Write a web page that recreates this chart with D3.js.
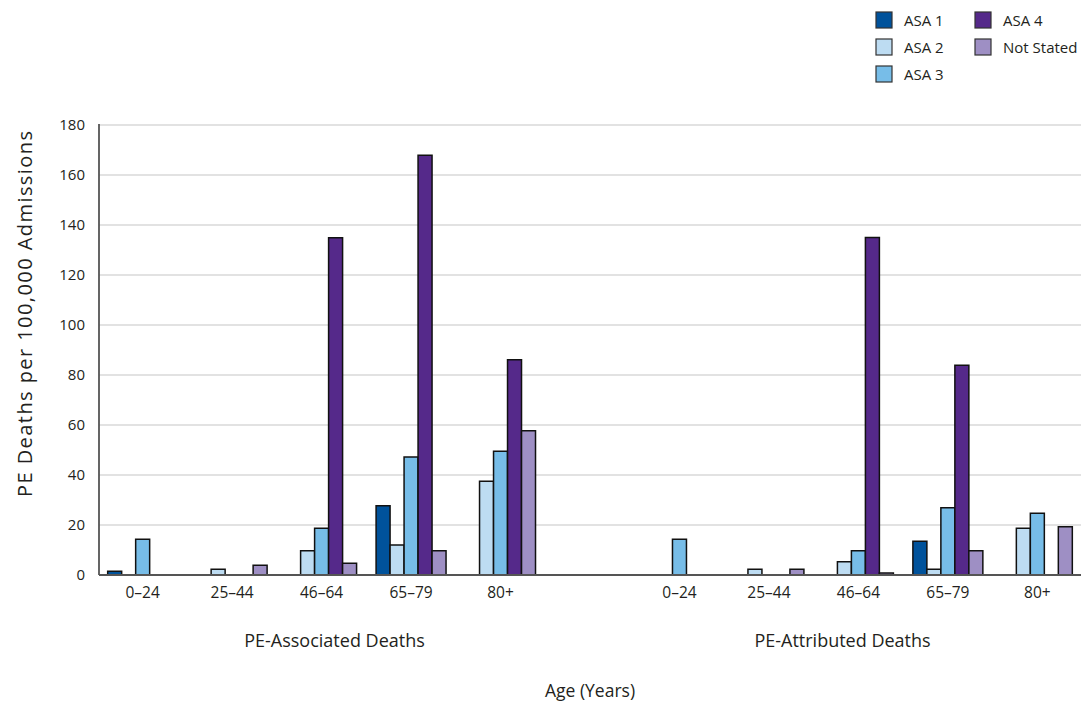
<!DOCTYPE html>
<html>
<head>
<meta charset="utf-8">
<script src="https://cdn.jsdelivr.net/npm/d3@7"></script>
<style>
  html, body { margin: 0; padding: 0; background: #fff; }
  svg { display: block; font-family: "Open Sans", Lato, sans-serif; }
</style>
</head>
<body>
<svg id="chart" width="1084" height="702"></svg>
<script>
// ---- Data ----
const ageGroups = ["0–24", "25–44", "46–64", "65–79", "80+"];
const sections = ["PE-Associated Deaths", "PE-Attributed Deaths"];
const seriesNames = ["ASA 1", "ASA 2", "ASA 3", "ASA 4", "Not Stated"];
const seriesColors = ["#00529b", "#bddcf2", "#77bde8", "#55298a", "#9e8fc4"];
const yTicks = [0, 20, 40, 60, 80, 100, 120, 140, 160, 180];

// PE-Associated Deaths (per age group)
const assocASA1 = [1.5, 0, 0, 27.7, 0];
const assocASA2 = [0, 2.3, 9.7, 12, 37.5];
const assocASA3 = [14.3, 0, 18.7, 47.2, 49.5];
const assocASA4 = [0, 0, 134.9, 167.9, 86.1];
const assocNotStated = [0, 3.9, 4.7, 9.7, 57.7];

// PE-Attributed Deaths (per age group)
const attrASA1 = [0, 0, 0, 13.5, 0];
const attrASA2 = [0, 2.3, 5.3, 2.3, 18.7];
const attrASA3 = [14.3, 0, 9.7, 26.9, 24.7];
const attrASA4 = [0, 0, 135, 83.9, 0];
const attrNotStated = [0, 2.3, 0.8, 9.7, 19.3];

const sectionValues = [
  [assocASA1, assocASA2, assocASA3, assocASA4, assocNotStated],
  [attrASA1, attrASA2, attrASA3, attrASA4, attrNotStated]
];

// ---- Layout ----
const svg = d3.select("#chart");
const margin = { left: 99, right: 3, top: 125, bottom: 127 };
const W = 1084, H = 702;
const plotL = margin.left, plotR = W - margin.right;
const plotT = margin.top, plotB = H - margin.bottom;
const FONT = '"Open Sans", Lato, sans-serif';

// slots: 5 age groups for section 0, a spacer, 5 age groups for section 1
const slotKeys = [];
sections.forEach((s, si) => {
  if (si > 0) slotKeys.push("gap" + si);
  ageGroups.forEach(a => slotKeys.push(si + "|" + a));
});

const x0 = d3.scaleBand().domain(slotKeys).range([plotL, plotR])
  .paddingInner(0.218).paddingOuter(0.097);
const x1 = d3.scaleBand().domain(seriesNames).range([0, x0.bandwidth()]);
const y = d3.scaleLinear().domain([0, 180]).range([plotB, plotT]);

const textColor = "#231f20";

// gridlines
svg.append("g").selectAll("line")
  .data(yTicks.filter(t => t > 0))
  .join("line")
  .attr("x1", plotL).attr("x2", plotR)
  .attr("y1", d => y(d)).attr("y2", d => y(d))
  .attr("stroke", "#d9d9d9").attr("stroke-width", 1.5);

// y axis labels
const yAxis = d3.axisLeft(y).tickValues(yTicks).tickSize(0).tickPadding(14);
const yg = svg.append("g").attr("transform", `translate(${plotL},0)`).call(yAxis);
yg.select(".domain").remove();
yg.selectAll("text").attr("font-size", 15).attr("fill", textColor)
  .attr("font-family", FONT);

// bars
const flat = [];
sections.forEach((s, si) => {
  ageGroups.forEach((a, ai) => {
    seriesNames.forEach((n, ni) => {
      const v = sectionValues[si][ni][ai];
      if (v > 0) flat.push({ key: si + "|" + a, series: n, color: seriesColors[ni], value: v });
    });
  });
});

svg.append("g").selectAll("rect")
  .data(flat)
  .join("rect")
  .attr("x", d => x0(d.key) + x1(d.series))
  .attr("y", d => y(d.value))
  .attr("width", x1.bandwidth())
  .attr("height", d => y(0) - y(d.value))
  .attr("fill", d => d.color)
  .attr("stroke", "#111")
  .attr("stroke-width", 1.5);

// axis lines
svg.append("line").attr("x1", plotL).attr("x2", plotL).attr("y1", plotT - 1).attr("y2", plotB)
  .attr("stroke", "#555").attr("stroke-width", 1.8);
svg.append("line").attr("x1", plotL).attr("x2", plotR).attr("y1", plotB).attr("y2", plotB)
  .attr("stroke", "#555").attr("stroke-width", 1.8);

// x tick labels (age groups)
const xAxis = d3.axisBottom(x0).tickSize(0).tickPadding(12)
  .tickFormat(k => k.indexOf("|") >= 0 ? k.split("|")[1] : "");
const xg = svg.append("g").attr("transform", `translate(0,${plotB})`).call(xAxis);
xg.select(".domain").remove();
xg.selectAll("text").attr("font-size", 15.5).attr("fill", textColor)
  .attr("font-family", FONT);

// section labels
const halfW = (plotR - plotL) / 2;
sections.forEach((s, si) => {
  svg.append("text")
    .attr("x", plotL + halfW * (si + 0.5) + (si === 0 ? -10 : 7))
    .attr("y", 647)
    .attr("text-anchor", "middle")
    .attr("font-size", 18)
    .attr("fill", textColor)
    .text(s);
});

// x axis title
svg.append("text")
  .attr("x", (plotL + plotR) / 2)
  .attr("y", 697)
  .attr("text-anchor", "middle")
  .attr("font-size", 17.5)
  .attr("fill", textColor)
  .text("Age (Years)");

// y axis title
svg.append("text")
  .attr("transform", `translate(24,314) rotate(-90)`)
  .attr("text-anchor", "middle")
  .attr("dominant-baseline", "central")
  .attr("font-size", 20)
  .attr("textLength", 366)
  .attr("lengthAdjust", "spacing")
  .attr("fill", textColor)
  .text("PE Deaths per 100,000 Admissions");

// legend
const legendCols = [[0, 1, 2], [3, 4]];
const legend = svg.append("g");
legendCols.forEach((col, ci) => {
  col.forEach((si, ri) => {
    const lx = 876 + ci * 99, ly = 12 + ri * 27;
    legend.append("rect")
      .attr("x", lx).attr("y", ly).attr("width", 16).attr("height", 16)
      .attr("fill", seriesColors[si]).attr("stroke", "#333").attr("stroke-width", 1.2);
    legend.append("text")
      .attr("x", lx + 28).attr("y", ly + 8)
      .attr("dominant-baseline", "central")
      .attr("font-size", 15)
      .attr("fill", textColor)
      .text(seriesNames[si]);
  });
});
</script>
</body>
</html>
